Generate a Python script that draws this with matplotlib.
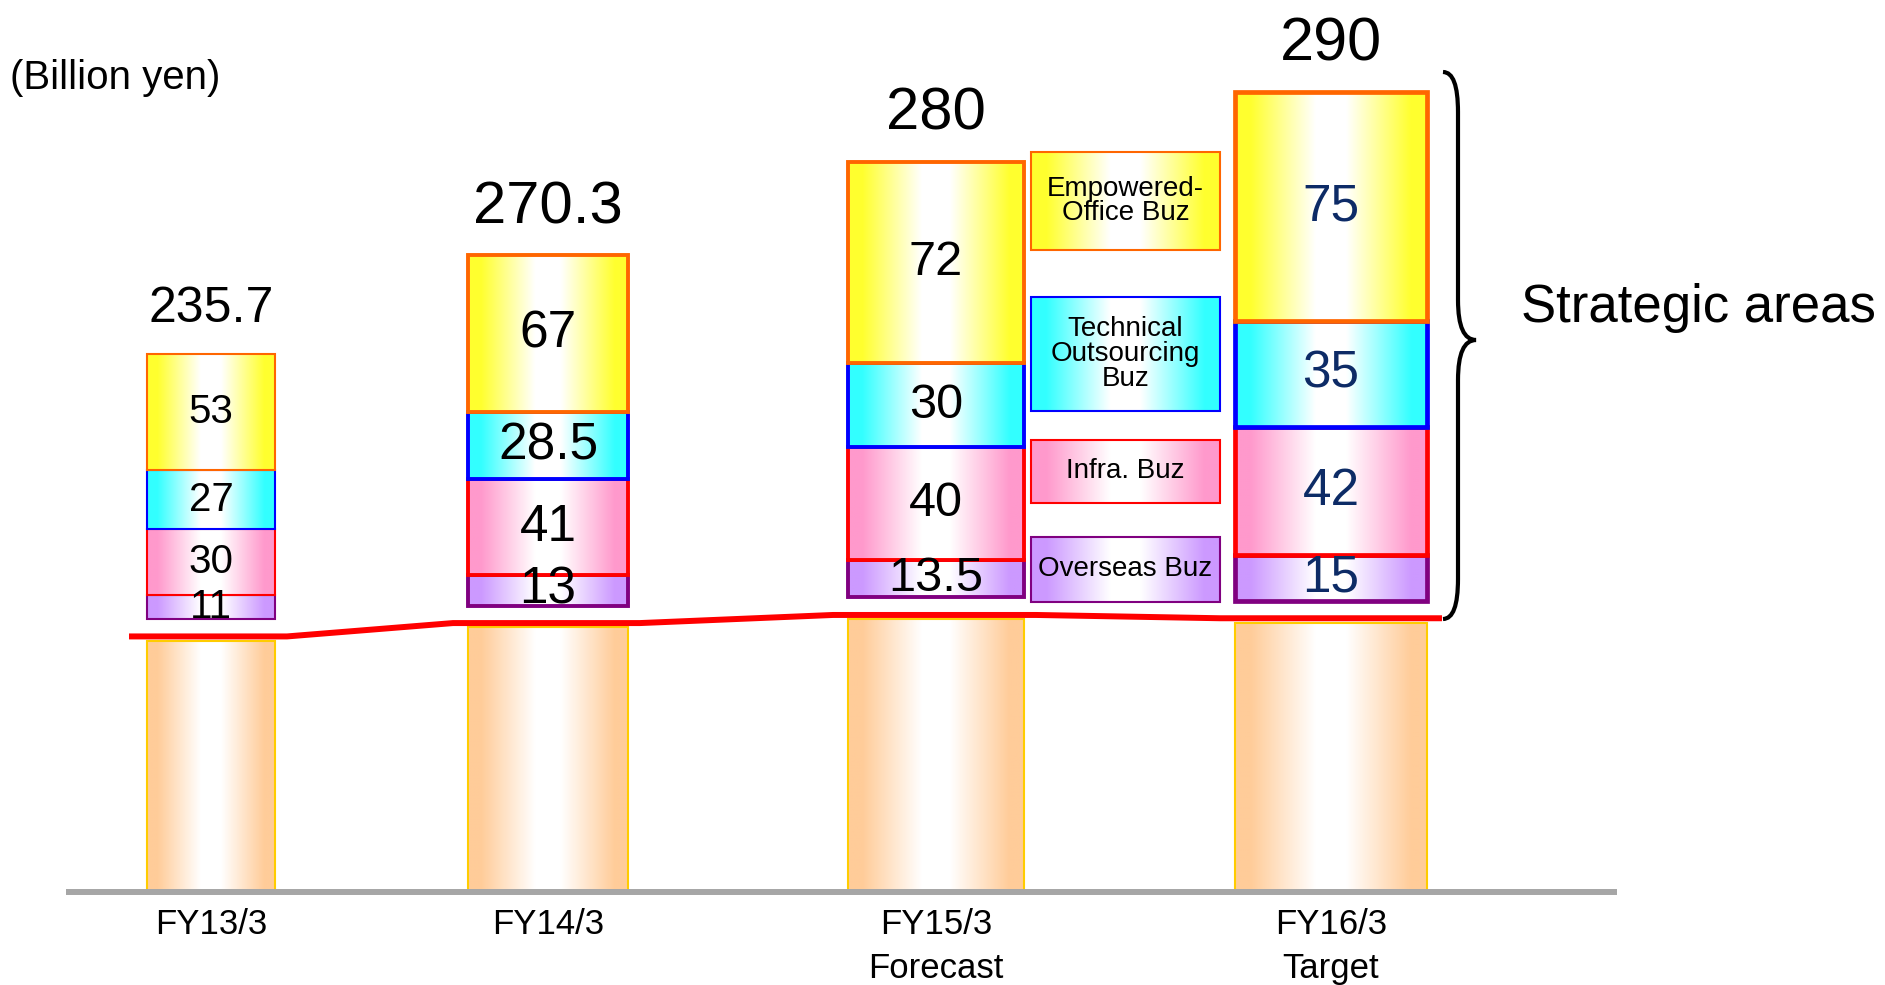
import numpy as np
import matplotlib
matplotlib.use("Agg")
import matplotlib.pyplot as plt
from matplotlib.patches import Rectangle, PathPatch
from matplotlib.path import Path
from matplotlib.colors import to_rgb

plt.rcParams['font.family'] = ['Liberation Sans', 'DejaVu Sans']

# ---- sales by business area (billion yen) ----
categories = ['FY13/3', 'FY14/3', 'FY15/3', 'FY16/3']
category_notes = ['', '', 'Forecast', 'Target']
totals = [235.7, 270.3, 280, 290]
overseas = [11, 13, 13.5, 15]
infra = [30, 41, 40, 42]
technical = [27, 28.5, 30, 35]
empowered = [53, 67, 72, 75]
segment_names = ['Overseas Buz', 'Infra. Buz',
                 'Technical\nOutsourcing\nBuz', 'Empowered-\nOffice Buz']
segments = [overseas, infra, technical, empowered]

# everything outside the strategic areas
base = [t - sum(s[i] for s in segments) for i, t in enumerate(totals)]

# ---- layout / styles ----
W, H = 1885, 985
PX = 2.19          # pixels per billion yen
BASE_Y = 892       # pixel row of the zero line
bar_x = [211, 548, 936, 1331]
bar_w = [128, 160, 176, 192]
stack_stretch = [1.0, 1.07, 1.28, 1.39]
stack_gap = 10
seg_fill = ['#cc99ff', '#ff99cc', '#33ffff', '#ffff2e']
seg_edge = ['#800080', '#ff0000', '#0000ff', '#ff6600']
edge_lw = [1.5, 2.8, 2.8, 3.4]
label_size = [29, 37, 35, 37]
label_color = ['black', 'black', 'black', '#0d2b66']
total_size = [36, 43, 43, 44]
legend_x = (1031, 1220)
legend_rows = [(537, 602), (440, 503), (297, 411), (152, 250)]


def grad_box(a, x0, x1, y0, y1, color, edge, lw, z=2):
    # colour at both sides fading to white in the middle
    t = np.linspace(0, 1, 200)
    w = np.clip((np.abs(t - 0.5) - 0.08) / 0.34, 0, 1)
    c = np.array(to_rgb(color))
    img = 1 - w[:, None] * (1 - c[None, :])
    a.imshow(img[None, :, :], extent=(x0, x1, y0, y1), aspect='auto',
             interpolation='bilinear', zorder=z)
    a.add_patch(Rectangle((x0, y0), x1 - x0, y1 - y0, fill=False,
                          ec=edge, lw=lw, zorder=z + 0.1))


fig = plt.figure(figsize=(W / 100, H / 100), dpi=100)
ax = fig.add_axes([0, 0, 1, 1])
ylim = (-(H - BASE_Y) / PX, BASE_Y / PX)
ax.set_xlim(0, W)
ax.set_ylim(*ylim)
ax.axis('off')

# overlay in pixel units for the annotations
ov = fig.add_axes([0, 0, 1, 1])
ov.set_xlim(0, W)
ov.set_ylim(H, 0)
ov.axis('off')
ov.patch.set_visible(False)

# base bars
for i, x in enumerate(bar_x):
    grad_box(ax, x - bar_w[i] / 2, x + bar_w[i] / 2, 0, base[i],
             '#ffcc99', '#ffcc00', 1.5)

# red line over the base bars
lx, ly = [], []
for i, x in enumerate(bar_x):
    lx += [x - bar_w[i] / 2 - 15, x + bar_w[i] / 2 + 12]
    ly += [base[i] + 2, base[i] + 2]
ax.plot(lx, ly, color='red', lw=4.3, zorder=3)

# strategic area stacks
for i, x in enumerate(bar_x):
    y = base[i] + stack_gap
    for k, seg in enumerate(segments):
        h = seg[i] * stack_stretch[i]
        grad_box(ax, x - bar_w[i] / 2, x + bar_w[i] / 2, y, y + h,
                 seg_fill[k], seg_edge[k], edge_lw[i], z=5 + k)
        ax.text(x, y + h / 2, f'{seg[i]:g}', ha='center', va='center',
                fontsize=label_size[i], color=label_color[i], zorder=10)
        y += h
    ax.annotate(f'{totals[i]:g}', (x, y), xytext=(0, 32),
                textcoords='offset pixels', ha='center', va='baseline',
                fontsize=total_size[i], zorder=10)

# zero line
ax.plot([66, 1617], [0, 0], color='#a6a6a6', lw=4.3, zorder=4,
        solid_capstyle='butt')

for i, x in enumerate(bar_x):
    ov.text(x, 934, categories[i], ha='center', va='baseline', fontsize=25)
    if category_notes[i]:
        ov.text(x, 978, category_notes[i], ha='center', va='baseline',
                fontsize=25)

# legend boxes
for k, name in enumerate(segment_names):
    y0, y1 = legend_rows[k]
    grad_box(ov, legend_x[0], legend_x[1], y0, y1, seg_fill[k], seg_edge[k],
             1.5, z=5)
    ov.text(sum(legend_x) / 2, (y0 + y1) / 2, name, ha='center',
            va='center', fontsize=20, linespacing=0.95, zorder=10)

# curly brace around the strategic areas
verts = [(1443, 72), (1458, 72), (1458, 112), (1458, 300),
         (1458, 340), (1476, 340), (1458, 340), (1458, 380),
         (1458, 579), (1458, 619), (1443, 619)]
codes = [Path.MOVETO, Path.CURVE3, Path.CURVE3, Path.LINETO,
         Path.CURVE3, Path.CURVE3, Path.CURVE3, Path.CURVE3,
         Path.LINETO, Path.CURVE3, Path.CURVE3]
ov.add_patch(PathPatch(Path(verts, codes), fill=False, ec='black', lw=3,
                       zorder=10))

ov.text(1521, 322, 'Strategic areas', ha='left', va='baseline', fontsize=38)
ov.text(10, 89, '(Billion yen)', ha='left', va='baseline', fontsize=29)

ax.set_xlim(0, W)
ax.set_ylim(*ylim)
fig.savefig('out.png', dpi=100)
